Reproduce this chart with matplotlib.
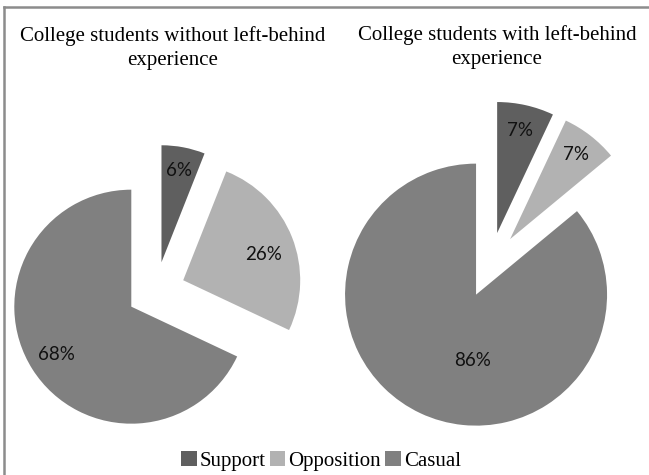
import numpy as np
import matplotlib
matplotlib.use("Agg")
import matplotlib.pyplot as plt
from matplotlib.patches import Patch
from matplotlib.lines import Line2D

categories = ["Support", "Opposition", "Casual"]
left_values = [6, 26, 68]
right_values = [7, 7, 86]
left_title = "College students without left-behind\nexperience"
right_title = "College students with left-behind\nexperience"
colors = ["#5f5f5f", "#b2b2b2", "#808080"]

W, H = 649, 475
fig = plt.figure(figsize=(W / 100, H / 100), dpi=100)
ax = fig.add_axes([0, 0, 1, 1])

def py(y):
    return H - y

def draw_pie(values, center, radius, dists, overrides=None):
    wedges, _ = ax.pie(values, colors=colors, startangle=90, counterclock=False,
                       explode=[0.25 * radius] * len(values), radius=radius,
                       center=center, frame=True,
                       wedgeprops=dict(linewidth=0))
    for i, (w, v) in enumerate(zip(wedges, values)):
        th = np.deg2rad((w.theta1 + w.theta2) / 2)
        d = dists[i]
        if overrides and i in overrides:
            th = np.deg2rad(overrides[i])
        cx, cy = w.center
        ax.text(cx + d * w.r * np.cos(th), cy + d * w.r * np.sin(th), f"{v}%",
                ha="center", va="center", fontsize=13.5, family="Lato", color="#111111")

draw_pie(left_values, (156, py(291)), 117, [0.8, 0.72, 0.76], overrides={1: 18})
draw_pie(right_values, (490, py(265)), 131, [0.8, 0.82, 0.5], overrides={2: -93})

ax.set_xlim(0, W)
ax.set_ylim(0, H)
ax.set_aspect("auto")
ax.axis("off")

ax.text(173, py(48), left_title, ha="center", va="center", fontsize=15,
        family="Liberation Serif", linespacing=1.4)
ax.text(497, py(47), right_title, ha="center", va="center", fontsize=15,
        family="Liberation Serif", linespacing=1.4)

handles = [Patch(facecolor=c, edgecolor="none") for c in colors]
fig.legend(handles, categories, loc="center", bbox_to_anchor=(321 / W, 1 - 461 / H),
           ncol=3, frameon=False, prop=dict(family="Liberation Serif", size=15),
           handlelength=0.75, handleheight=0.75, handletextpad=0.15,
           columnspacing=0.2, borderpad=0)

fig.add_artist(Line2D([4 / W, 4 / W], [0, 1 - 7 / H], color="#8c8c8c", lw=1.8,
                      transform=fig.transFigure))
fig.add_artist(Line2D([4 / W, 1], [1 - 7 / H, 1 - 7 / H], color="#8c8c8c", lw=1.8,
                      transform=fig.transFigure))

fig.savefig("out.png", dpi=100)
